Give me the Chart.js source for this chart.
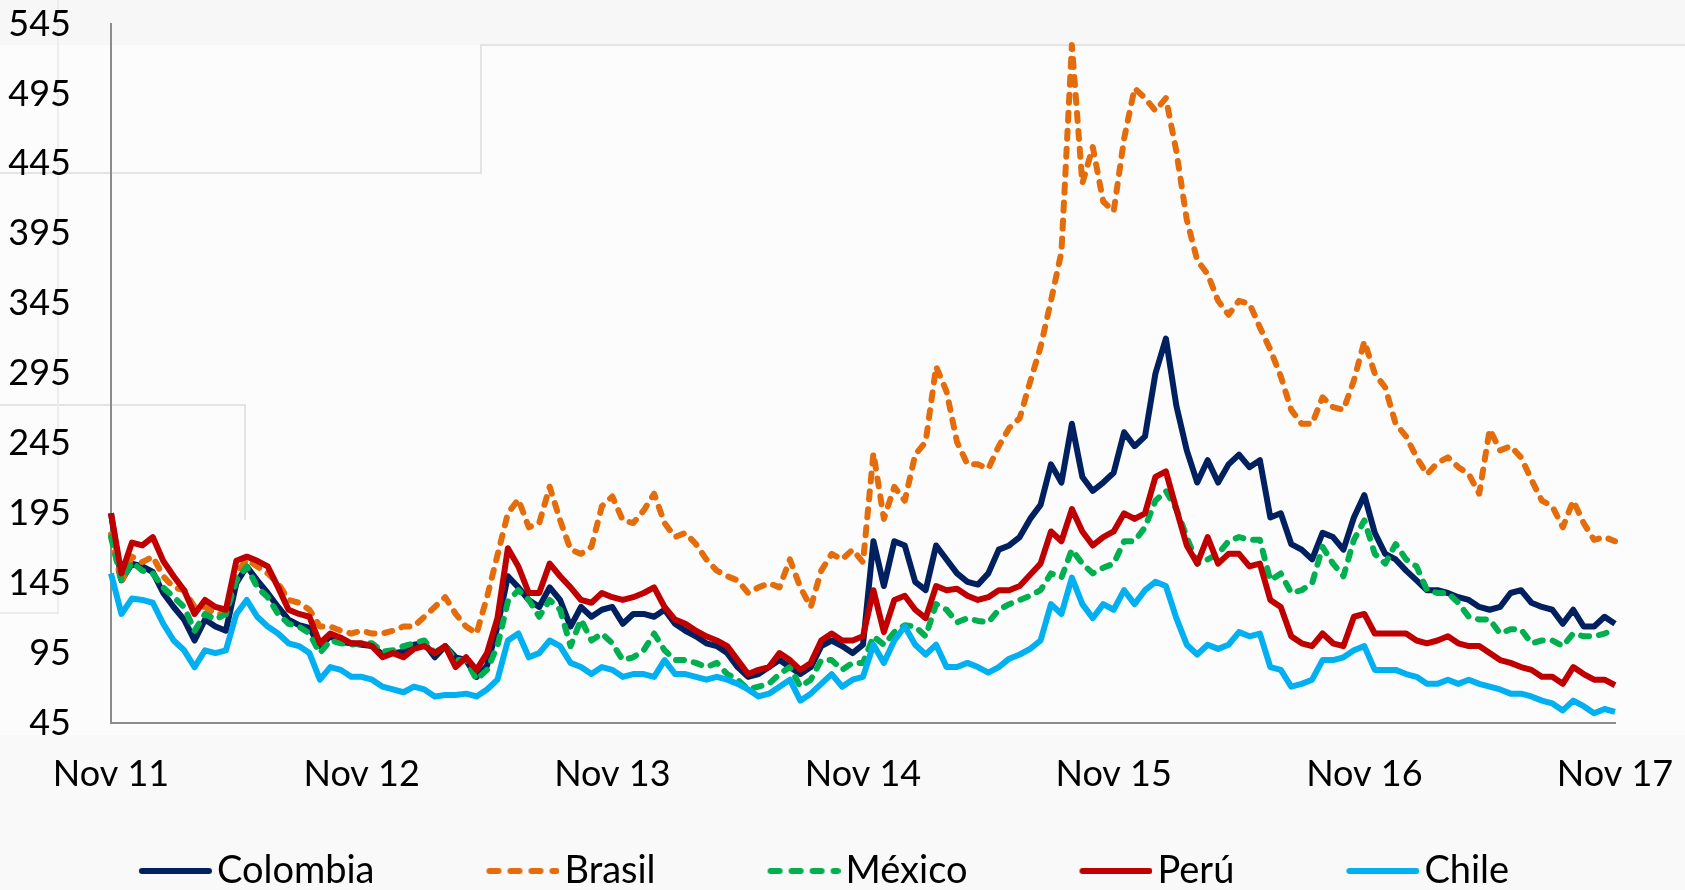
<!DOCTYPE html>
<html>
<head>
<meta charset="utf-8">
<script src="https://cdn.jsdelivr.net/npm/chart.js@4.4.1/dist/chart.umd.min.js"></script>
<style>
  html, body { margin: 0; padding: 0; background: #fbfbfb; }
</style>
</head>
<body>
<canvas id="chart" width="1685" height="890"></canvas>
<script>
// Sovereign CDS spreads (bp), one value every half month, Nov 2011 - Nov 2017
const tickLabels = ['Nov 11', 'Nov 12', 'Nov 13', 'Nov 14', 'Nov 15', 'Nov 16', 'Nov 17'];

const colombia = [
  195,147,159,157,153,138,128,119,104,119, 114,111,145,157,147,138,128,119,115,113,
  100,107,103,102,101,100,94,95,96,101, 102,92,100,92,90,78,86,114,150,142,
  133,128,142,133,114,128,121,126,128,116, 123,123,121,126,116,111,107,102,100,95,
  85,78,80,85,90,85,80,85,100,104, 100,95,
  101,175,143,175,172,146,140,172,162,152, 146,144,152,169,172,178,191,201,230,217,
  259,221,211,217,224,253,243,250,295,320, 272,240,217,233,217,230,237,
  228,233,192,195,173,169,162,181,178,169, 192,208,181,166,162,154,147,140,140,138,
  135,133,128,126,128,138,140,131,128,126, 116,126,114,114,121,116
];
const brasil = [
  180,145,164,160,164,150,142,140,128,128, 123,123,152,162,157,152,145,133,131,126,
  114,114,111,109,111,109,109,111,114,114, 121,128,135,123,114,109,135,165,195,205,
  185,188,214,190,169,166,171,200,207,190, 188,197,209,188,178,181,173,162,154,150,
  147,138,142,145,142,162,142,128,154,166, 162,169,
  160,238,191,214,204,237,246,300,282,246, 230,230,227,243,256,263,289,314,347,382,
  530,431,457,418,411,463,499,492,483,492, 454,405,376,366,347,337,347,
  345,328,312,293,269,259,259,278,271,269, 290,318,295,285,259,250,235,223,231,235,
  228,223,209,255,240,243,235,219,204,200, 185,204,188,176,178,175
];
const mexico = [
  178,147,160,154,152,142,135,128,111,123, 119,123,147,157,142,135,123,116,114,109,
  95,104,102,101,102,102,96,97,100,102, 104,95,100,90,90,76,83,100,132,140,
  133,121,133,126,100,119,104,109,102,90, 92,97,109,97,90,90,88,85,88,80,
  76,69,71,73,80,85,71,76,90,90, 83,88,
  88,107,101,110,115,114,107,130,126,117, 120,118,117,126,130,133,136,140,152,149,
  169,159,152,156,159,175,175,185,204,211, 198,178,159,162,166,175,178,
  176,176,147,152,138,140,145,171,159,150, 176,190,166,159,173,162,157,140,138,138,
  131,121,119,119,109,112,112,102,104,104, 100,109,107,107,109,112
];
const peru = [
  195,152,174,172,178,161,150,140,123,133, 128,126,161,164,161,157,142,126,123,121,
  102,109,106,102,102,100,92,95,92,98, 100,95,100,85,92,83,95,120,170,157,
  138,138,159,150,142,133,131,138,135,133, 135,138,142,128,119,116,111,107,104,100,
  90,80,83,85,95,90,83,88,104,109, 104,104,
  107,140,110,133,136,126,120,143,140,141, 136,133,135,140,140,143,151,159,182,175,
  198,182,172,178,182,195,191,195,221,225, 198,172,159,178,159,166,166,
  157,159,133,128,107,102,100,109,102,100, 121,123,109,109,109,109,104,102,104,107,
  102,100,100,95,90,88,85,83,78,78, 73,85,80,76,76,72
];
const chile = [
  152,123,134,133,131,116,104,97,85,97, 95,97,123,133,121,114,109,102,100,95,
  76,85,83,78,78,76,71,69,67,71, 69,64,65,65,66,64,69,76,104,109,
  92,95,104,100,88,85,80,85,83,78, 80,80,78,90,80,80,78,76,78,76,
  73,69,64,66,71,76,61,66,73,80, 71,76,
  78,101,88,104,114,101,94,101,85,85, 88,85,81,85,91,94,98,104,130,123,
  149,130,120,130,126,140,130,140,146,143, 120,101,94,101,98,101,110,
  107,109,85,83,71,73,76,90,90,92, 97,100,83,83,83,80,78,73,73,76,
  73,76,73,71,69,66,66,64,61,59, 54,61,57,52,55,53
];

// one category per half month, labelled once a year
const labels = colombia.map((_, i) => (i % 24 === 0 ? tickLabels[i / 24] : ''));

const DASH = [8, 10];

// legend sample: line drawn in the right part of a wider image so it sits close to the text
function legendSample(color, dash) {
  const c = document.createElement('canvas');
  c.width = 140;
  c.height = 12;
  const g = c.getContext('2d');
  g.strokeStyle = color;
  g.lineWidth = 6;
  g.lineCap = 'round';
  if (dash) g.setLineDash([9, 12]);
  g.beginPath();
  g.moveTo(70, 6);
  g.lineTo(137, 6);
  g.stroke();
  return c;
}

function series(label, data, color, dash, order) {
  return {
    label: label,
    data: data,
    borderColor: color,
    backgroundColor: color,
    borderWidth: 6,
    borderDash: dash ? DASH : [],
    borderCapStyle: dash ? 'round' : 'butt',
    borderJoinStyle: 'round',
    pointRadius: 0,
    pointHoverRadius: 0,
    pointStyle: legendSample(color, dash),
    tension: 0,
    fill: false,
    order: order
  };
}

// faint frame lines left over in the original screenshot
const backdrop = {
  id: 'backdrop',
  beforeDraw(chart) {
    const { ctx, width, height } = chart;
    ctx.save();
    ctx.fillStyle = '#fcfcfc';
    ctx.fillRect(0, 0, width, height);
    ctx.fillStyle = '#f7f7f7';
    ctx.fillRect(0, 0, width, 45);
    ctx.fillStyle = '#f9f9f9';
    ctx.fillRect(0, 735, width, height - 735);
    ctx.strokeStyle = '#e4e4e4';
    ctx.lineWidth = 2;
    ctx.beginPath();
    ctx.moveTo(width, 45); ctx.lineTo(481, 45); ctx.lineTo(481, 173); ctx.lineTo(0, 173);
    ctx.moveTo(0, 405); ctx.lineTo(245, 405); ctx.lineTo(245, 520);
    ctx.stroke();
    ctx.strokeStyle = '#ededed';
    ctx.beginPath();
    ctx.moveTo(58, 0); ctx.lineTo(58, 613); ctx.lineTo(0, 613);
    ctx.stroke();
    ctx.restore();
  }
};

const tickFont = { family: 'Lato', size: 36 };

new Chart(document.getElementById('chart'), {
  type: 'line',
  data: {
    labels: labels,
    datasets: [
      series('Colombia', colombia, '#002060', false, 5),
      series('Brasil', brasil, '#E46C0A', true, 4),
      series('México', mexico, '#00B050', true, 3),
      series('Perú', peru, '#C00000', false, 2),
      series('Chile', chile, '#00B0F0', false, 1)
    ]
  },
  options: {
    responsive: false,
    animation: false,
    events: [],
    layout: { padding: { left: -20, right: 70, top: 24, bottom: -10 } },
    scales: {
      x: {
        offset: false,
        grid: { display: false, drawTicks: false },
        border: { display: true, color: '#8c8c8c', width: 2 },
        ticks: {
          autoSkip: false,
          maxRotation: 0,
          minRotation: 0,
          padding: 30,
          color: '#000',
          font: tickFont
        },
        afterFit(scale) {
          scale.height = 70;
          scale.paddingLeft = 0;
          scale.paddingRight = 0;
        }
      },
      y: {
        min: 45,
        max: 545,
        grid: { display: false, drawTicks: false },
        border: { display: true, color: '#8c8c8c', width: 2 },
        ticks: {
          stepSize: 50,
          padding: 40,
          color: '#000',
          font: tickFont
        },
        afterFit(scale) {
          scale.width = 131;
          scale.paddingTop = 0;
          scale.paddingBottom = 0;
        }
      }
    },
    plugins: {
      legend: {
        position: 'bottom',
        labels: {
          usePointStyle: true,
          pointStyleWidth: 112,
          padding: 59,
          color: '#000',
          font: { family: 'Lato', size: 38 },
          sort: (a, b) => a.datasetIndex - b.datasetIndex
        }
      },
      tooltip: { enabled: false }
    }
  },
  plugins: [backdrop]
});
</script>
</body>
</html>
